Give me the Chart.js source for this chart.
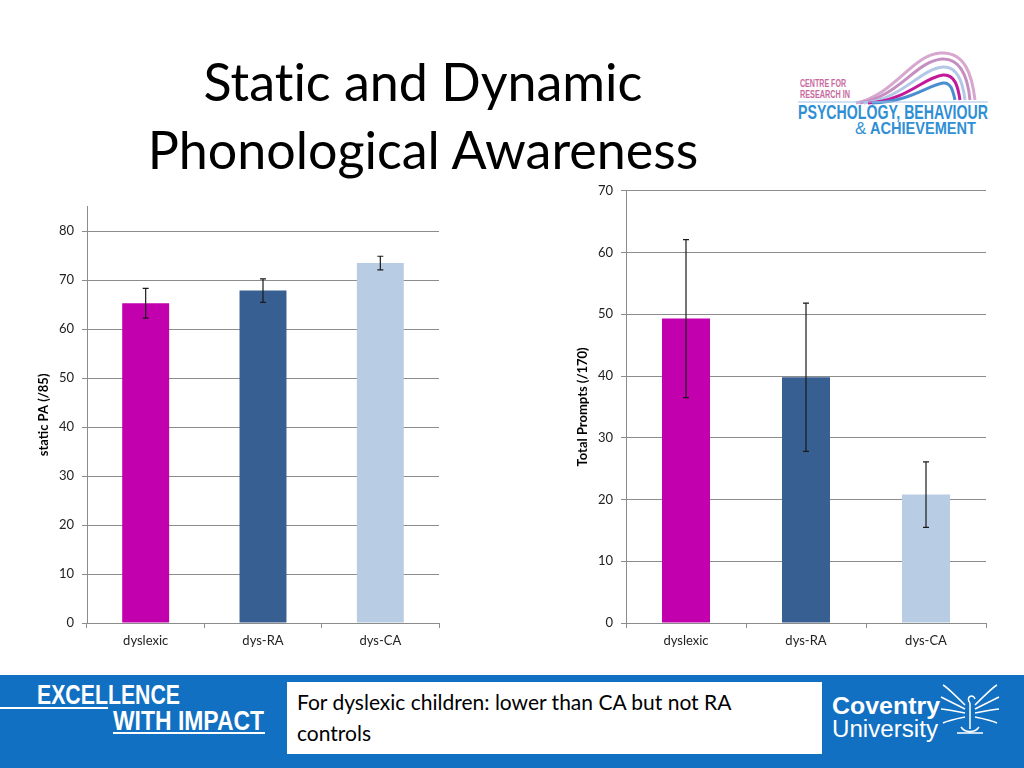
<!DOCTYPE html>
<html lang="en">
<head>
<meta charset="UTF-8">
<title>Static and Dynamic Phonological Awareness</title>
<script src="https://cdn.jsdelivr.net/npm/chart.js"></script>
<style>
  body { margin: 0; width: 1024px; height: 768px; position: relative; overflow: hidden; background: #fff; font-family: Lato, "Open Sans", sans-serif; }
  .abs { position: absolute; }
  #title { left: 60px; top: 47px; width: 726px; text-align: center; font-size: 52px; line-height: 68px; color: #000; font-variant-ligatures: none; }
  #footer { left: 0; top: 675px; width: 1024px; height: 93px; background: #1170c2; }
  #note { left: 287px; top: 682px; width: 535px; height: 72px; background: #fff; padding: 4px 0 0 10px; box-sizing: border-box; font-size: 21px; line-height: 31px; color: #000; }
  .cond { font-family: "Liberation Sans Narrow", "Liberation Sans", sans-serif; font-weight: bold; }
</style>
</head>
<body>
<div id="title" class="abs">Static and Dynamic<br>Phonological Awareness</div>

<!-- research centre logo -->
<svg class="abs" style="left:790px;top:45px" width="210" height="100">
  <g fill="none" stroke-width="3">
    <path d="M66 58 C104 50 122 10 150 8 C175 6 182 30 185 55" stroke="#d7a7cf"/>
    <path d="M70 58 C108 52 126 16 152 14 C172 13 178 34 180 55" stroke="#c58fc1"/>
    <path d="M74 58 C112 54 130 24 153 22 C168 21 173 38 175 55" stroke="#b3c7e6"/>
    <path d="M78 58 C116 56 134 32 153 30 C165 29 168 42 170 55" stroke="#c3189a"/>
    <path d="M82 58 C120 57 138 40 153 38 C161 37 163 46 165 55" stroke="#4a8ed0"/>
  </g>
  <text x="10" y="42" class="cond" font-size="11" fill="#c86aa0" textLength="46" lengthAdjust="spacingAndGlyphs">CENTRE FOR</text>
  <text x="10" y="53" class="cond" font-size="11" fill="#c86aa0" textLength="50" lengthAdjust="spacingAndGlyphs">RESEARCH IN</text>
  <line x1="8" y1="57" x2="198" y2="57" stroke="#9fc3e6" stroke-width="1"/>
  <text x="8" y="74" class="cond" font-size="20" fill="#2f8fd5" textLength="190" lengthAdjust="spacingAndGlyphs">PSYCHOLOGY, BEHAVIOUR</text>
  <text x="65" y="89" font-family="Liberation Sans Narrow, sans-serif" font-size="17" fill="#2f8fd5">&amp;</text>
  <text x="80" y="89" class="cond" font-size="17" fill="#2f8fd5" textLength="106" lengthAdjust="spacingAndGlyphs">ACHIEVEMENT</text>
</svg>

<div style="left:36px;top:191px;width:406px;height:465px" class="abs"><canvas id="staticChart"></canvas></div>
<div style="left:575px;top:175px;width:414px;height:481px" class="abs"><canvas id="dynamicChart"></canvas></div>

<div id="footer" class="abs"></div>
<svg class="abs" style="left:0;top:675px" width="290" height="93">
  <text x="37" y="29" class="cond" font-size="27" fill="#fff" textLength="143" lengthAdjust="spacingAndGlyphs">EXCELLENCE</text>
  <line x1="0" y1="33" x2="108" y2="33" stroke="#fff" stroke-width="2"/>
  <text x="113" y="55" class="cond" font-size="27" fill="#fff" textLength="151" lengthAdjust="spacingAndGlyphs">WITH IMPACT</text>
  <line x1="113" y1="58" x2="265" y2="58" stroke="#fff" stroke-width="2"/>
</svg>
<div id="note" class="abs">For dyslexic children: lower than CA but not RA<br>controls</div>
<svg class="abs" style="left:825px;top:675px" width="199" height="93">
  <text x="7" y="39" font-family="Liberation Sans, sans-serif" font-weight="bold" font-size="24" fill="#fff" textLength="108" lengthAdjust="spacingAndGlyphs">Coventry</text>
  <text x="7" y="62" font-family="Liberation Sans, sans-serif" font-size="23" fill="#fff" textLength="106" lengthAdjust="spacingAndGlyphs">University</text>
  <g fill="none" stroke="#fff" stroke-width="1.5">
    <path d="M140 30 C130 20 122 12 118 10 M140 34 C128 28 120 24 116 22 M140 38 C128 36 120 34 116 34 M140 42 C130 44 122 46 118 48"/>
    <path d="M150 30 C160 20 168 12 172 10 M150 34 C162 28 170 24 174 22 M150 38 C162 36 170 34 174 34 M150 42 C160 44 168 46 172 48"/>
    <path d="M145 28 C140 22 148 18 150 24 M145 28 L145 54 M136 52 C140 58 150 58 154 52 M132 58 L158 58"/>
  </g>
</svg>

<script>
// chart data
var groups = ['dyslexic', 'dys-RA', 'dys-CA'];
var barColors = ['#c300ae', '#375f91', '#b8cde4'];

var staticMeans = [65.3, 67.9, 73.5];
var staticErrors = [3.05, 2.4, 1.4];

var dynamicMeans = [49.3, 39.8, 20.8];
var dynamicErrors = [12.8, 12.0, 5.3];

var gridColor = '#8c8c8c';
var fontFamily = 'Lato, "Open Sans", sans-serif';

// draws +/- error whiskers on top of the bars
var errorBars = {
    id: 'errorBars',
    afterDatasetsDraw: function(chart, args, opts) {
        var meta = chart.getDatasetMeta(0);
        var yScale = chart.scales.y;
        var ctx = chart.ctx;
        var values = chart.data.datasets[0].data;
        ctx.save();
        ctx.strokeStyle = '#1a1a1a';
        ctx.lineWidth = 1.2;
        meta.data.forEach(function(bar, i) {
            var top = yScale.getPixelForValue(values[i] + opts.errors[i]);
            var bottom = yScale.getPixelForValue(values[i] - opts.errors[i]);
            ctx.beginPath();
            ctx.moveTo(bar.x, top); ctx.lineTo(bar.x, bottom);
            ctx.moveTo(bar.x - 3, top); ctx.lineTo(bar.x + 3, top);
            ctx.moveTo(bar.x - 3, bottom); ctx.lineTo(bar.x + 3, bottom);
            ctx.stroke();
        });
        ctx.restore();
    }
};

function makeChart(id, means, errors, yMax, axisTitle, padTop) {
    var ctx = document.getElementById(id).getContext('2d');
    return new Chart(ctx, {
        type: 'bar',
        data: {
            labels: groups,
            datasets: [{
                data: means,
                backgroundColor: barColors,
                borderWidth: 0,
                barPercentage: 0.4,
                categoryPercentage: 1
            }]
        },
        options: {
            responsive: true,
            maintainAspectRatio: false,
            animation: false,
            layout: { padding: { top: padTop, right: 3, bottom: 0, left: 0 } },
            plugins: {
                legend: { display: false },
                tooltip: { enabled: false },
                errorBars: { errors: errors }
            },
            scales: {
                x: {
                    grid: { drawOnChartArea: false, offset: true, tickLength: 5, color: gridColor },
                    border: { color: gridColor },
                    ticks: { color: '#222', padding: 5, font: { family: fontFamily, size: 13 } },
                    afterFit: function(s) { s.height = 33; }
                },
                y: {
                    min: 0,
                    max: yMax,
                    grid: { color: gridColor, tickLength: 5 },
                    border: { color: gridColor },
                    ticks: { stepSize: 10, includeBounds: false, color: '#222', padding: 8, font: { family: fontFamily, size: 13 } },
                    title: { display: true, text: axisTitle, color: '#000', padding: 0, font: { family: fontFamily, size: 13, weight: 'bold' } },
                    afterFit: function(s) { s.width = 51; }
                }
            }
        },
        plugins: [errorBars]
    });
}

makeChart('staticChart', staticMeans, staticErrors, 85, 'static PA (/85)', 7);
makeChart('dynamicChart', dynamicMeans, dynamicErrors, 70, 'Total Prompts (/170)', 5);
</script>
</body>
</html>
